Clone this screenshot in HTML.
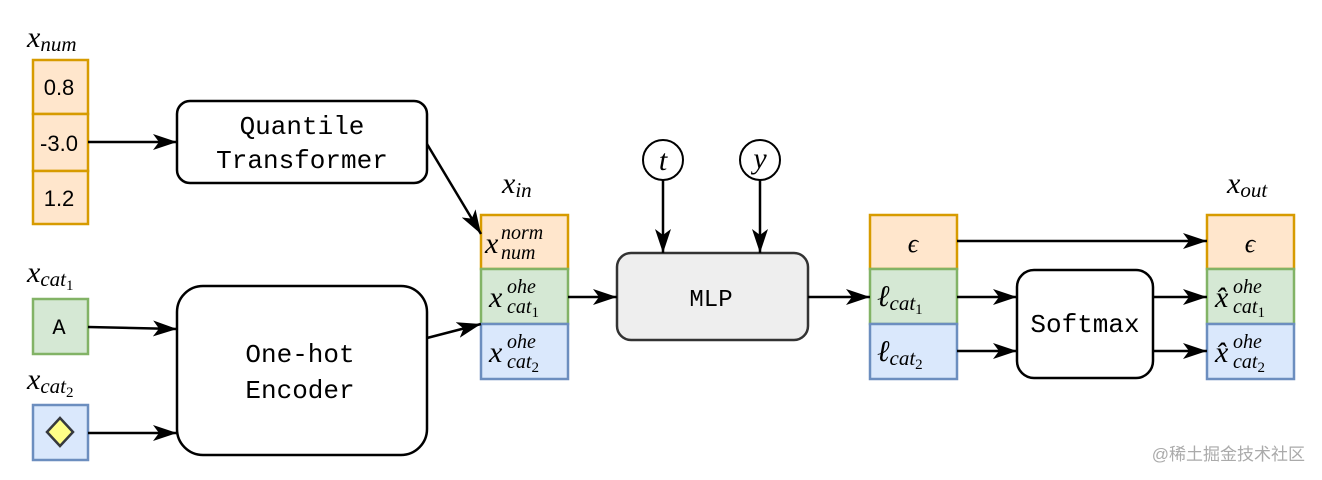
<!DOCTYPE html>
<html><head><meta charset="utf-8"><style>
html,body{margin:0;padding:0;background:#fff;}
svg{display:block;}
.m{font-family:"Liberation Serif",serif;font-style:italic;}
.mono{font-family:"Liberation Mono",monospace;}
</style></head><body>
<svg width="1322" height="480" viewBox="0 0 1322 480" xmlns="http://www.w3.org/2000/svg">
<defs>
<marker id="b" markerWidth="24" markerHeight="16" refX="24" refY="8" orient="auto" markerUnits="userSpaceOnUse" viewBox="0 0 24 16">
<path d="M0,0 L24,8 L0,16 L6,8 Z" fill="#000"/>
</marker>
</defs>
<g stroke-width="2.5">
<rect x="33" y="60" width="55" height="54" fill="#ffe6cc" stroke="#d79b00"/>
<rect x="33" y="114" width="55" height="57" fill="#ffe6cc" stroke="#d79b00"/>
<rect x="33" y="171" width="55" height="53" fill="#ffe6cc" stroke="#d79b00"/>
<rect x="33" y="299" width="55" height="55" fill="#d5e8d4" stroke="#82b366"/>
<rect x="33" y="405" width="55" height="55" fill="#dae8fc" stroke="#6c8ebf"/>
<path d="M60,418 L73,432 L60,446 L47,432 Z" fill="#ffff88" stroke="#36393d"/>
<rect x="481" y="215" width="87" height="54" fill="#ffe6cc" stroke="#d79b00"/>
<rect x="481" y="269" width="87" height="55" fill="#d5e8d4" stroke="#82b366"/>
<rect x="481" y="324" width="87" height="55" fill="#dae8fc" stroke="#6c8ebf"/>
<rect x="870" y="215" width="87" height="54" fill="#ffe6cc" stroke="#d79b00"/>
<rect x="870" y="269" width="87" height="55" fill="#d5e8d4" stroke="#82b366"/>
<rect x="870" y="324" width="87" height="55" fill="#dae8fc" stroke="#6c8ebf"/>
<rect x="1207" y="215" width="87" height="54" fill="#ffe6cc" stroke="#d79b00"/>
<rect x="1207" y="269" width="87" height="55" fill="#d5e8d4" stroke="#82b366"/>
<rect x="1207" y="324" width="87" height="55" fill="#dae8fc" stroke="#6c8ebf"/>
</g>
<g stroke="#000" stroke-width="2.5" fill="none">
<rect x="177" y="101" width="250" height="82" rx="13" fill="#fff"/>
<rect x="177" y="286" width="250" height="169" rx="26" fill="#fff"/>
<rect x="617" y="253" width="191" height="87" rx="14" fill="#eeeeee" stroke="#333"/>
<rect x="1017" y="270" width="136" height="108" rx="17" fill="#fff"/>
<circle cx="663" cy="160" r="20" fill="#fff" stroke-width="2"/>
<circle cx="760" cy="160" r="20" fill="#fff" stroke-width="2"/>
</g>
<g stroke="#000" stroke-width="2.5" fill="none" marker-end="url(#b)">
<line x1="88" y1="142" x2="177" y2="142"/>
<line x1="427" y1="144" x2="481" y2="234"/>
<line x1="88" y1="327" x2="177" y2="329"/>
<line x1="88" y1="433" x2="177" y2="433"/>
<line x1="427" y1="338" x2="481" y2="324"/>
<line x1="568" y1="297" x2="617" y2="297"/>
<line x1="663" y1="180" x2="663" y2="253"/>
<line x1="760" y1="180" x2="760" y2="253"/>
<line x1="808" y1="297" x2="870" y2="297"/>
<line x1="957" y1="241" x2="1207" y2="241"/>
<line x1="957" y1="297" x2="1017" y2="297"/>
<line x1="957" y1="351" x2="1017" y2="351"/>
<line x1="1153" y1="297" x2="1207" y2="297"/>
<line x1="1153" y1="351" x2="1207" y2="351"/>
</g>
<g font-family="Liberation Sans, sans-serif" font-size="22" text-anchor="middle" fill="#000">
<text x="59" y="95">0.8</text>
<text x="59" y="151">-3.0</text>
<text x="59" y="206">1.2</text>
</g>
<g class="mono" font-size="26" text-anchor="middle" fill="#000">
<text x="302" y="134">Quantile</text>
<text x="302" y="168">Transformer</text>
<text x="300" y="362">One-hot</text>
<text x="300" y="398">Encoder</text>
<text x="711" y="306" font-size="24">MLP</text>
<text x="1085" y="332">Softmax</text>
<text x="59" y="334" font-size="22">A</text>
</g>
<g class="m" fill="#000">
<text x="27" y="47" font-size="30">x<tspan font-size="21" dy="4">num</tspan></text>
<text x="27" y="282" font-size="30">x<tspan font-size="21" dy="4">cat</tspan><tspan font-size="15" dy="4" font-style="normal">1</tspan></text>
<text x="27" y="389" font-size="30">x<tspan font-size="21" dy="4">cat</tspan><tspan font-size="15" dy="4" font-style="normal">2</tspan></text>
<text x="502" y="193" font-size="30">x<tspan font-size="21" dy="4">in</tspan></text>
<text x="1227" y="193" font-size="30">x<tspan font-size="21" dy="4">out</tspan></text>
<text x="663" y="170" font-size="30" text-anchor="middle">t</text>
<text x="760" y="168" font-size="30" text-anchor="middle">y</text>
<text x="485" y="253" font-size="30">x</text><text x="501" y="239" font-size="20">norm</text><text x="501" y="259" font-size="20">num</text>
<text x="489" y="307" font-size="30">x</text><text x="507" y="293" font-size="20">ohe</text><text x="507" y="313" font-size="20">cat<tspan font-size="15" dy="4" font-style="normal">1</tspan></text>
<text x="489" y="362" font-size="30">x</text><text x="507" y="348" font-size="20">ohe</text><text x="507" y="368" font-size="20">cat<tspan font-size="15" dy="4" font-style="normal">2</tspan></text>
<text x="913" y="252" font-size="26" text-anchor="middle">ϵ</text>
<text x="877" y="306" font-size="30">ℓ<tspan font-size="21" dy="4">cat</tspan><tspan font-size="15" dy="4" font-style="normal">1</tspan></text>
<text x="877" y="361" font-size="30">ℓ<tspan font-size="21" dy="4">cat</tspan><tspan font-size="15" dy="4" font-style="normal">2</tspan></text>
<text x="1250" y="252" font-size="26" text-anchor="middle">ϵ</text>
<text x="1215" y="307" font-size="30">x̂</text><text x="1233" y="293" font-size="20">ohe</text><text x="1233" y="313" font-size="20">cat<tspan font-size="15" dy="4" font-style="normal">1</tspan></text>
<text x="1215" y="362" font-size="30">x̂</text><text x="1233" y="348" font-size="20">ohe</text><text x="1233" y="368" font-size="20">cat<tspan font-size="15" dy="4" font-style="normal">2</tspan></text>
</g>
<text x="1305" y="460" text-anchor="end" font-family="Liberation Sans, Noto Sans CJK SC, sans-serif" font-size="17" fill="#aaa">@稀土掘金技术社区</text>
</svg>
</body></html>
